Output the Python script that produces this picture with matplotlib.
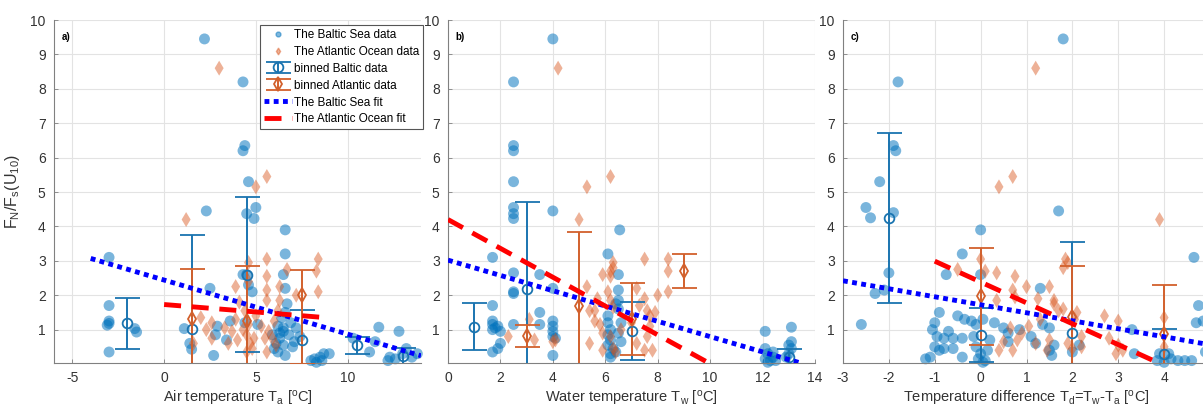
import matplotlib
matplotlib.use('Agg')
import matplotlib.pyplot as plt
from matplotlib.lines import Line2D
import numpy as np

plt.rcParams['font.family'] = ['Liberation Sans', 'DejaVu Sans']
plt.rcParams['mathtext.fontset'] = 'custom'
plt.rcParams['mathtext.rm'] = 'Liberation Sans'
plt.rcParams['mathtext.it'] = 'Liberation Sans:italic'
plt.rcParams['mathtext.default'] = 'regular'
plt.rcParams['axes.unicode_minus'] = False

# ---- panel a: air temperature ----
a_baltic_x = [2.2, 4.3, 4.4, 4.3, 4.6, 5.0, 4.5, 4.9, 2.3, 6.6, 6.6, -3.0, -3.0, -3.0, -3.0, -3.1, -3.0, -1.6, -1.5,
              1.1, 1.4, 1.5, 2.5, 2.7, 2.9, 2.8, 3.4, 3.6, 4.3, 4.5, 4.8, 4.6, 5.1, 4.4, 6.5, 6.6, 6.7, 6.6, 6.4,
              6.2, 6.5, 6.8, 6.3, 6.1, 6.5, 7.0, 6.2, 6.6, 7.2, 7.4, 6.9, 7.1, 5.9, 6.0, 8.0, 8.2, 8.5, 8.7, 8.3,
              9.0, 8.6, 10.3, 11.2, 11.7, 11.5, 12.3, 12.2, 12.8, 13.0, 13.2, 12.6, 13.5, 13.8, 6.5, 6.3]
a_baltic_y = [9.45, 8.2, 6.35, 6.2, 5.3, 4.55, 4.37, 4.23, 4.45, 3.9, 3.2, 3.1, 1.7, 1.25, 1.18, 1.13, 0.35, 1.03, 0.93,
              1.03, 0.6, 0.43, 2.2, 0.25, 1.1, 0.85, 0.7, 1.25, 2.6, 2.6, 2.1, 2.3, 1.15, 1.2, 2.6, 2.2, 1.75, 1.5, 1.35,
              1.1, 0.95, 0.85, 0.75, 0.6, 0.55, 0.5, 0.35, 0.25, 1.05, 0.8, 1.2, 0.65, 0.85, 0.45, 0.1, 0.15, 0.2, 0.3, 0.05,
              0.3, 0.1, 0.75, 0.35, 1.07, 0.65, 0.2, 0.1, 0.95, 0.3, 0.45, 0.15, 0.2, 0.3, 1.05, 0.9]
a_atl_x = [3.0, 5.6, 5.0, 1.2, 4.6, 5.6, 8.4, 8.3, 6.7, 5.6, 3.9, 4.6, 6.3, 8.4, 7.2, 5.6, 5.6, 2.0, 2.6, 2.6, 3.5,
           3.9, 4.3, 4.5, 4.7, 4.8, 4.5, 5.6, 5.7, 6.0, 6.2, 6.3, 5.9, 6.1, 4.1, 4.4, 5.0, 5.3, 5.5, 3.3, 4.0, 4.9,
           4.6, 3.7, 1.6, 2.3]
a_atl_y = [8.6, 5.45, 5.15, 4.2, 2.95, 3.05, 3.05, 2.7, 2.75, 2.55, 2.25, 2.4, 2.25, 2.1, 2.0, 2.15, 1.85, 1.35, 1.2, 0.75, 0.6,
           1.3, 1.0, 0.85, 0.6, 0.45, 0.35, 0.35, 0.95, 1.25, 1.55, 1.85, 0.75, 0.55, 1.8, 1.55, 1.4, 1.1, 0.75, 1.05, 0.7, 0.75,
           1.15, 0.95, 0.6, 1.0]
a_bin_baltic_x = [-2, 1.5, 4.5, 7.5, 10.5, 13]
a_bin_baltic_y = [1.18, 1.03, 2.6, 0.7, 0.55, 0.22]
a_bin_baltic_lo = [0.74, 2.72, 2.25, 0.86, 0.25, 0.25]
a_bin_baltic_hi = [0.74, 2.72, 2.25, 0.86, 0.25, 0.25]
a_bin_atl_x = [1.5, 4.5, 7.5]
a_bin_atl_y = [1.3, 1.25, 2.0]
a_bin_atl_lo = [1.45, 1.6, 2.0]
a_bin_atl_hi = [1.45, 1.6, 0.73]
a_fit_baltic = ([-4, 14], [3.07, 0.24])
a_fit_atl = ([0, 9], [1.73, 1.34])

# ---- panel b: water temperature ----
b_baltic_x = [4.0, 2.5, 2.5, 2.5, 2.5, 2.5, 2.5, 2.5, 4.0, 6.55, 6.1, 1.7, 2.5, 2.5, 2.5, 3.5, 4.0, 1.7, 1.7, 1.7,
              1.8, 1.7, 1.9, 2.0, 1.7, 1.9, 2.0, 2.5, 3.5, 3.5, 4.0, 4.0, 4.0, 4.0, 4.0, 4.1, 6.5, 6.5, 6.5, 6.5,
              6.4, 6.1, 6.1, 6.2, 6.1, 6.2, 6.1, 6.3, 6.2, 6.4, 6.6, 6.5, 6.6, 6.2, 12.1, 12.1, 12.2, 12.1, 12.3,
              12.4, 12.4, 12.2, 12.5, 13.1, 13.1, 13.0, 13.1, 13.0, 12.9]
b_baltic_y = [9.45, 8.2, 6.35, 6.2, 5.3, 4.55, 4.37, 4.23, 4.45, 3.9, 3.2, 3.1, 2.65, 2.1, 2.05, 2.6, 2.2, 1.7, 1.25, 1.15,
              1.05, 1.0, 1.1, 0.95, 0.35, 0.45, 0.6, 1.15, 1.5, 1.15, 1.25, 1.1, 0.95, 0.8, 0.25, 0.75, 2.6, 2.15, 1.85, 1.6,
              1.75, 1.4, 1.2, 1.0, 0.85, 0.7, 0.55, 0.45, 0.3, 0.35, 0.65, 0.9, 1.2, 0.2, 0.95, 0.45, 0.3, 0.15, 0.1,
              0.2, 0.35, 0.05, 0.1, 1.07, 0.65, 0.55, 0.45, 0.3, 0.2]
b_atl_x = [4.2, 6.2, 5.3, 5.0, 6.3, 6.3, 7.5, 8.4, 8.4, 6.2, 5.9, 6.2, 8.4, 8.0, 7.5, 7.6, 7.3, 5.3, 5.7, 6.1, 6.2,
           6.3, 5.6, 5.4, 5.6, 5.8, 5.9, 5.4, 5.9, 6.3, 6.4, 6.2, 6.6, 7.0, 7.2, 7.2, 7.6, 7.7, 7.5, 7.8, 7.7, 2.3,
           3.1, 3.3, 4.1, 4.0, 7.9]
b_atl_y = [8.6, 5.45, 5.15, 4.2, 2.95, 2.8, 3.05, 3.05, 2.7, 2.7, 2.6, 2.55, 2.1, 2.0, 1.9, 1.55, 1.7, 2.25, 1.9, 2.1, 1.85,
           1.65, 1.55, 1.55, 1.25, 1.15, 0.9, 0.6, 0.4, 0.45, 0.35, 0.8, 1.0, 1.2, 2.2, 0.6, 0.8, 1.1, 0.4, 0.4, 1.4, 0.8,
           1.3, 0.7, 0.7, 0.65, 1.5]
b_bin_baltic_x = [1, 3, 7, 13]
b_bin_baltic_y = [1.08, 2.18, 0.95, 0.2]
b_bin_baltic_lo = [0.68, 2.53, 0.84, 0.25]
b_bin_baltic_hi = [0.68, 2.53, 0.84, 0.25]
b_bin_atl_x = [3, 5, 7, 9]
b_bin_atl_y = [0.82, 1.7, 1.3, 2.7]
b_bin_atl_lo = [0.32, 2.13, 1.05, 0.5]
b_bin_atl_hi = [0.32, 2.13, 1.05, 0.5]
b_fit_baltic = ([0, 13.45], [3.02, 0.03])
b_fit_atl = ([0, 9.95], [4.2, 0.03])

# ---- panel c: temperature difference ----
c_baltic_x = [1.8, -1.8, -1.9, -1.85, -2.2, -2.5, -2.4, -1.9, 1.7, 0.0, -0.4, 4.65, -0.75, -2.0, -2.3, -2.1, 0.0, 1.3,
              -2.6, 4.75, 4.7, 4.85, 3.3, -0.9, -1.0, -1.05, -0.95, -1.0, -0.9, -1.1, -1.2, -0.7, -0.5, -0.35, -0.2,
              -0.1, 0.05, -0.6, -0.4, -0.6, -0.8, -0.4, -0.1, -0.15, 0.0, -0.05, 0.1, 0.05, 0.15, 0.2, 0.3, 0.5, 0.6,
              0.6, 0.85, 1.1, 1.35, 1.5, 1.6, 1.55, 1.2, 1.5, 2.15, 2.0, 3.35, 3.85, 4.0, 4.15, 4.3, 4.45, 4.6, 3.9,
              4.9, 4.1, -0.8]
c_baltic_y = [9.45, 8.2, 6.35, 6.2, 5.3, 4.55, 4.25, 4.4, 4.45, 3.9, 3.2, 3.1, 2.6, 2.65, 2.05, 2.15, 2.6, 2.2,
              1.15, 1.7, 1.2, 1.25, 1.0, 1.5, 1.2, 1.0, 0.8, 0.5, 0.4, 0.2, 0.15, 0.95, 1.4, 1.3, 1.25,
              1.15, 1.3, 0.75, 0.75, 0.45, 0.45, 0.2, 0.5, 0.8, 0.3, 0.15, 0.1, 0.05, 0.4, 0.7, 1.2, 1.05, 0.65,
              0.9, 1.0, 0.8, 1.15, 1.05, 0.55, 0.25, 0.6, 0.4, 0.55, 0.35, 0.3, 0.1, 0.05, 0.15, 0.1, 0.1, 0.1, 0.3,
              0.35, 0.3, 0.75]
c_atl_x = [1.2, 0.4, 0.7, 3.9, -0.5, 0.0, 0.35, 0.7, 0.75, 1.0, 1.25, 0.75, 1.5, 1.6, 1.8, 1.85, 1.9, 0.35, 0.1,
           1.7, 1.8, 2.1, 1.6, 2.7, 3.0, 2.8, 3.0, 3.1, 2.95, 2.2, 2.0, 1.9, 1.5, 1.45, 1.2, 0.9, 0.7, 0.4, 0.5,
           0.8, 0.65, 1.05, 1.3, 4.0, 4.0, 2.05, 2.2]
c_atl_y = [8.6, 5.15, 5.45, 4.2, 2.75, 3.05, 2.65, 2.15, 2.55, 2.25, 1.9, 1.95, 2.25, 1.85, 2.8, 3.05, 2.95, 1.85, 2.7,
           1.55, 1.6, 1.5, 1.75, 1.4, 1.25, 0.75, 0.55, 0.4, 0.3, 0.5, 0.45, 0.6, 0.7, 0.4, 0.6, 0.9, 0.4, 0.4, 0.65,
           0.7, 1.05, 1.1, 1.3, 1.35, 0.5, 1.3, 0.8]
c_bin_baltic_x = [-2, 0, 2, 4]
c_bin_baltic_y = [4.25, 0.85, 0.9, 0.3]
c_bin_baltic_lo = [2.47, 0.79, 2.66, 0.72]
c_bin_baltic_hi = [2.47, 0.79, 2.66, 0.72]
c_bin_atl_x = [0, 2, 4]
c_bin_atl_y = [1.97, 1.38, 0.88]
c_bin_atl_lo = [1.41, 1.47, 1.42]
c_bin_atl_hi = [1.41, 1.47, 1.42]
c_fit_baltic = ([-3, 5], [2.42, 0.56])
c_fit_atl = ([-1, 3.8], [2.99, 0.08])

BLUE = (0.0, 0.447, 0.741)
ORANGE = (0.85, 0.325, 0.098)
BIN_BLUE = '#1a74b0'
BIN_ORANGE = '#d2602c'

fig = plt.figure(figsize=(12.03, 4.08), dpi=100)
W, H = 1203.0, 408.0
lefts = [54, 448, 843]
panels = [
	('a)', (-6, 14), range(-5, 15, 5), 'Air temperature T$_a$ [$^o$C]',
	 a_baltic_x, a_baltic_y, a_atl_x, a_atl_y,
	 (a_bin_baltic_x, a_bin_baltic_y, a_bin_baltic_lo, a_bin_baltic_hi),
	 (a_bin_atl_x, a_bin_atl_y, a_bin_atl_lo, a_bin_atl_hi), a_fit_baltic, a_fit_atl),
	('b)', (0, 14), range(0, 15, 2), 'Water temperature T$_w$ [$^o$C]',
	 b_baltic_x, b_baltic_y, b_atl_x, b_atl_y,
	 (b_bin_baltic_x, b_bin_baltic_y, b_bin_baltic_lo, b_bin_baltic_hi),
	 (b_bin_atl_x, b_bin_atl_y, b_bin_atl_lo, b_bin_atl_hi), b_fit_baltic, b_fit_atl),
	('c)', (-3, 5), range(-3, 5), 'Temperature difference T$_d$=T$_w$-T$_a$ [$^o$C]',
	 c_baltic_x, c_baltic_y, c_atl_x, c_atl_y,
	 (c_bin_baltic_x, c_bin_baltic_y, c_bin_baltic_lo, c_bin_baltic_hi),
	 (c_bin_atl_x, c_bin_atl_y, c_bin_atl_lo, c_bin_atl_hi), c_fit_baltic, c_fit_atl),
]

axes = []
for left, p in zip(lefts, panels):
	tag, xlim, xt, xlab, bx, by, ax_, ay, bb, ba, fb, fa = p
	ax = fig.add_axes([left / W, (H - 363) / H, 367 / W, 343 / H])
	axes.append(ax)
	ax.set_xlim(*xlim)
	ax.set_ylim(0.03, 10)
	ax.set_xticks(list(xt))
	ax.set_yticks(range(1, 11))
	ax.grid(True, color='#e3e3e3', lw=0.8)
	ax.set_axisbelow(True)
	for s in ['top', 'right']:
		ax.spines[s].set_visible(False)
	for s in ['left', 'bottom']:
		ax.spines[s].set_color('#808080')
		ax.spines[s].set_linewidth(0.8)
	ax.tick_params(direction='in', length=3, width=0.6, color='#808080',
				   labelsize=10, labelcolor='#333333', pad=6)
	ax.set_xlabel(xlab, fontsize=10.5, color='#333333', labelpad=3)

	ax.scatter(bx, by, s=62, color=BLUE, alpha=0.52, edgecolors='none', clip_on=False, zorder=2)
	ax.scatter(ax_, ay, s=58, marker='d', color=ORANGE, alpha=0.45, edgecolors='none', clip_on=False, zorder=2)

	eb1 = ax.errorbar(bb[0], bb[1], yerr=[bb[2], bb[3]], fmt='o', color=BIN_BLUE, mfc='none',
					  ms=7, mew=1.3, elinewidth=1.4, capsize=9, capthick=1.4, zorder=3)
	eb2 = ax.errorbar(ba[0], ba[1], yerr=[ba[2], ba[3]], fmt='d', color=BIN_ORANGE, mfc='none',
					  ms=7, mew=1.3, elinewidth=1.4, capsize=9, capthick=1.4, zorder=3)
	l1, = ax.plot(fb[0], fb[1], color=(0, 0, 1), lw=3.5, dashes=(1, 0.9), dash_capstyle='butt', zorder=4)
	l2, = ax.plot(fa[0], fa[1], color=(1, 0, 0), lw=3.5, dashes=(3.5, 2.2), dash_capstyle='butt', zorder=4)
	ax.text(0.02, 0.965, tag, transform=ax.transAxes, fontsize=7, fontweight='bold', va='top')

axes[0].set_ylabel('F$_N$/F$_s$(U$_{10}$)', fontsize=11.5, color='#333333', labelpad=6)

# small legend markers for the raw data, like the original
h_b = Line2D([], [], ls='', marker='o', ms=3.5, color=BLUE, alpha=0.5)
h_a = Line2D([], [], ls='', marker='d', ms=3.5, color=ORANGE, alpha=0.45)
leg = axes[0].legend([h_b, h_a, eb1, eb2, l1, l2],
					 ['The Baltic Sea data', 'The Atlantic Ocean data', 'binned Baltic data',
					  'binned Atlantic data', 'The Baltic Sea fit', 'The Atlantic Ocean fit'],
					 loc='upper right', bbox_to_anchor=(1.005, 0.985), borderaxespad=0,
					 fontsize=8.5, fancybox=False, framealpha=1, edgecolor='#555555',
					 handlelength=2.4, handletextpad=0.15, labelspacing=0.42, borderpad=0.3)
leg.get_frame().set_linewidth(0.8)
leg.set_zorder(10)

fig.savefig('out.png', dpi=100)
